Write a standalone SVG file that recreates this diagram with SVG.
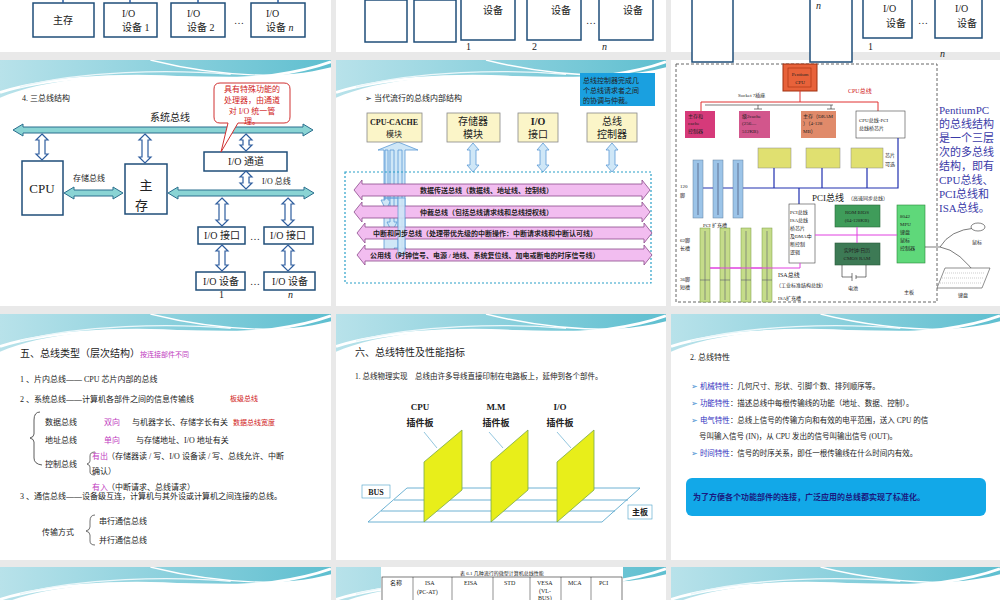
<svg xmlns="http://www.w3.org/2000/svg" width="1000" height="600" viewBox="0 0 1000 600">
<style>
text{font-family:"Liberation Serif","Noto Sans CJK SC",serif;fill:#222}
.s{font-size:10px}.xs{font-size:8px}.t{font-size:11px}
.box{fill:#fff;stroke:#1f4e79;stroke-width:1.5}
.bus{fill:#8ad4d4;stroke:#2b6e8e;stroke-width:1}
.va{fill:#fff;stroke:#2e5d9e;stroke-width:1.2}
.pk{fill:#f2bdf0;stroke:#8a4a8a;stroke-width:0.8}
.lb{fill:#cfe7f7;stroke:#5b9bd5;stroke-width:0.8}
.yb{fill:#fbf5c8;stroke:#888;stroke-width:0.8}
.pink{fill:#c03cc0}.red{fill:#d02020}.blue{fill:#3030c0}
.board{fill:#e8ee1a;stroke:#7aa84a;stroke-width:0.8}
.grid{fill:none;stroke:#4aa0c8;stroke-width:0.8}
</style>
<defs>
<linearGradient id="wg" x1="0" y1="0" x2="1" y2="0"><stop offset="0" stop-color="#b8e2ea"/><stop offset="1" stop-color="#5fbfd0"/></linearGradient>
<symbol id="wave" viewBox="0 0 330 50" preserveAspectRatio="none">
<path d="M0,0 H330 V8 C260,28 170,12 90,20 C50,24 20,32 0,42 Z" fill="url(#wg)"/>
<path d="M0,36 C40,22 110,14 190,20 C250,24 300,14 330,2" fill="none" stroke="#fff" stroke-width="3"/>
<path d="M20,30 C80,12 170,10 230,16" fill="none" stroke="#eaf7fa" stroke-width="1.5"/>
<path d="M150,0 C200,14 260,22 330,14" fill="none" stroke="#fff" stroke-width="1.5"/>
</symbol>
</defs>
<rect width="1000" height="600" fill="#e9e9e9"/>
<rect x="0" y="0" width="331" height="52" fill="#fff"/>
<rect x="336" y="0" width="330" height="52" fill="#fff"/>
<rect x="671" y="0" width="329" height="52" fill="#fff"/>
<rect x="0" y="60" width="331" height="246" fill="#fff"/>
<rect x="336" y="60" width="330" height="246" fill="#fff"/>
<rect x="671" y="60" width="329" height="246" fill="#fff"/>
<rect x="0" y="314" width="331" height="246" fill="#fff"/>
<rect x="336" y="314" width="330" height="246" fill="#fff"/>
<rect x="671" y="314" width="329" height="246" fill="#fff"/>
<rect x="0" y="567" width="331" height="33" fill="#fff"/>
<rect x="336" y="567" width="330" height="33" fill="#fff"/>
<rect x="671" y="567" width="329" height="33" fill="#fff"/>
<use href="#wave" x="0" y="60" width="331" height="45"/>
<use href="#wave" x="336" y="60" width="330" height="45"/>
<use href="#wave" x="0" y="314" width="331" height="45"/>
<use href="#wave" x="336" y="314" width="330" height="45"/>
<use href="#wave" x="671" y="314" width="329" height="45"/>
<use href="#wave" x="0" y="567" width="331" height="45"/>
<use href="#wave" x="336" y="567" width="330" height="45"/>
<use href="#wave" x="671" y="567" width="329" height="45"/>

<g id="top1">
<rect class="box" x="33" y="3" width="61" height="34"/><text class="s" x="63" y="24" text-anchor="middle">主存</text>
<rect class="box" x="104" y="3" width="53" height="34"/><text class="s" x="122" y="17">I/O</text><text class="s" x="122" y="31">设备 1</text>
<rect class="box" x="171" y="3" width="54" height="34"/><text class="s" x="187" y="17">I/O</text><text class="s" x="187" y="31">设备 2</text>
<text class="s" x="234" y="24">…</text>
<rect class="box" x="251" y="3" width="54" height="34"/><text class="s" x="266" y="17">I/O</text><text class="s" x="266" y="31">设备 <tspan font-style="italic">n</tspan></text>
<path d="M63,0 v3 M130,0 v3 M198,0 v3 M278,0 v3" stroke="#2e5d9e" stroke-width="1.5"/>
</g>
<g id="top2">
<rect class="box" x="365" y="0" width="42" height="42"/>
<rect class="box" x="414" y="0" width="42" height="42"/>
<rect class="box" x="461" y="-2" width="54" height="42"/><text class="s" x="483" y="14">设备</text><text class="s" x="466" y="50">1</text>
<rect class="box" x="527" y="-2" width="54" height="42"/><text class="s" x="551" y="14">设备</text><text class="s" x="532" y="50">2</text>
<text class="s" x="586" y="24">…</text>
<rect class="box" x="599" y="-2" width="54" height="42"/><text class="s" x="623" y="14">设备</text><text class="s" x="602" y="50" font-style="italic">n</text>
</g>
<g id="top3">
<rect class="box" x="692" y="-2" width="41" height="64"/>
<rect class="box" x="810" y="-2" width="42" height="64"/><text class="s" x="816" y="9" font-style="italic">n</text>
<rect class="box" x="863" y="-2" width="49" height="40"/><text class="s" x="883" y="12">I/O</text><text class="s" x="886" y="27">设备</text><text class="s" x="868" y="50">1</text>
<text class="s" x="918" y="24">…</text>
<rect class="box" x="935" y="-2" width="47" height="40"/><text class="s" x="955" y="12">I/O</text><text class="s" x="957" y="27">设备</text><text class="s" x="940" y="57" font-style="italic">n</text>
</g>

<text class="xs" x="22" y="101">4. 三总线结构</text>
<text class="s" x="150" y="121">系统总线</text>
<g id="sysbus-node">
<rect class="box" x="22" y="161" width="41" height="54"/><text x="42" y="193" font-size="13" text-anchor="middle" font-family="Liberation Sans,sans-serif">CPU</text>
<rect class="box" x="125" y="164" width="42" height="50"/><text x="146" y="190" font-size="13" text-anchor="middle">主</text><text x="135" y="210" font-size="13">存</text>
<rect class="box" x="204" y="152" width="83" height="19"/><text class="s" x="246" y="165" text-anchor="middle">I/O 通道</text>
<rect class="box" x="198" y="227" width="47" height="17"/><text class="s" x="222" y="239" text-anchor="middle">I/O 接口</text>
<rect class="box" x="264" y="227" width="49" height="17"/><text class="s" x="288" y="239" text-anchor="middle">I/O 接口</text>
<rect class="box" x="196" y="272" width="49" height="18"/><text class="s" x="221" y="285" text-anchor="middle">I/O 设备</text>
<rect class="box" x="264" y="272" width="51" height="18"/><text class="s" x="290" y="285" text-anchor="middle">I/O 设备</text>
<text class="s" x="250" y="240">…</text><text class="s" x="250" y="285">…</text>
<text class="s" x="219" y="298">1</text><text class="s" x="288" y="298" font-style="italic">n</text>
<text class="xs" x="73" y="181">存储总线</text>
<text class="xs" x="262" y="184">I/O 总线</text>
</g>
<g id="connectors">
<polygon class="bus" points="13,130 23,124 23,127 303,127 303,124 313,130 303,136 303,133 23,133 23,136"/>
<polygon class="bus" points="64,193 74,187 74,190 113,190 113,187 123,193 113,199 113,196 74,196 74,199"/>
<polygon class="bus" points="168,193 178,187 178,190 304,190 304,187 314,193 304,199 304,196 178,196 178,199"/>
<polygon class="va" points="42,134 48,140 45,140 45,154 48,154 42,160 36,154 39,154 39,140 36,140"/>
<polygon class="va" points="145,134 151,140 148,140 148,157 151,157 145,163 139,157 142,157 142,140 139,140"/>
<polygon class="va" points="246,134 252,140 249,140 249,145 252,145 246,151 240,145 243,145 243,140 240,140"/>
<polygon class="va" points="246,171 252,177 249,177 249,183 252,183 246,189 240,183 243,183 243,177 240,177"/>
<polygon class="va" points="222,198 228,204 225,204 225,220 228,220 222,226 216,220 219,220 219,204 216,204"/>
<polygon class="va" points="288,198 294,204 291,204 291,220 294,220 288,226 282,220 285,220 285,204 282,204"/>
<polygon class="va" points="222,245 228,251 225,251 225,265 228,265 222,271 216,265 219,265 219,251 216,251"/>
<polygon class="va" points="288,245 294,251 291,251 291,265 294,265 288,271 282,265 285,265 285,251 282,251"/>
<polygon class="lb" points="384,255 384,150 378,150 398,142 418,150 405,150 405,255"/>
<polygon class="lb" points="385,150 388,150 388,200 391,200 386,210 381,200 385,200"/>
<polygon class="lb" points="390,150 394,150 394,222 397,222 392,232 387,222 390,222"/>
<polygon class="lb" points="398,150 402,150 402,248 406,248 400,258 394,248 398,248"/>
<polygon class="lb" points="473,143 479,150 476,150 476,165 479,165 473,172 467,165 470,165 470,150 467,150"/>
<polygon class="lb" points="543,143 549,150 546,150 546,165 549,165 543,172 537,165 540,165 540,150 537,150"/>
<polygon class="lb" points="612,143 618,150 615,150 615,165 618,165 612,172 606,165 609,165 609,150 606,150"/>
</g>
<g id="callout">
<path d="M222,83 H284 Q290,83 290,89 V117 Q290,123 284,123 H238 L221,152 L228,123 H220 Q214,123 214,117 V89 Q214,83 220,83 Z" fill="#fff" stroke="#d03030" stroke-width="1"/>
<text class="xs red" x="252" y="92" text-anchor="middle">具有特殊功能的</text>
<text class="xs red" x="252" y="103" text-anchor="middle">处理器，由通道</text>
<text class="xs red" x="252" y="114" text-anchor="middle">对 I/O 统一管</text>
<text class="xs red" x="252" y="124" text-anchor="middle">理。</text>
</g>

<text class="xs" x="365" y="101">➢  当代流行的总线内部结构</text>
<g id="note"><rect x="580" y="73" width="75" height="33" fill="#1aa0e0"/>
<text x="583" y="83" font-size="7" fill="#c03cc0">总线控制器完成几</text><text x="583" y="93" font-size="7" fill="#c03cc0">个总线请求者之间</text><text x="583" y="103" font-size="7" fill="#c03cc0">的协调与仲裁。</text></g>
<g id="cpucache"><rect class="yb" x="367" y="113" width="55" height="29"/><text x="394" y="125" font-size="8" font-weight="bold" text-anchor="middle">CPU-CACHE</text><text x="394" y="137" font-size="8" text-anchor="middle">模块</text></g>
<g id="mem"><rect class="yb" x="447" y="113" width="53" height="29"/><text class="s" x="473" y="125" text-anchor="middle">存储器</text><text class="s" x="473" y="138" text-anchor="middle">模块</text></g>
<g id="io"><rect class="yb" x="518" y="113" width="40" height="29"/><text class="s" x="538" y="125" text-anchor="middle" font-weight="bold">I/O</text><text class="s" x="538" y="138" text-anchor="middle">接口</text></g>
<g id="busctl"><rect class="yb" x="587" y="113" width="50" height="29"/><text class="s" x="612" y="125" text-anchor="middle">总线</text><text class="s" x="612" y="138" text-anchor="middle">控制器</text></g>
<rect x="345" y="172" width="306" height="111" fill="none" stroke="#2aa0c8" stroke-width="1.2" stroke-dasharray="2,2"/>
<g id="pinkbuses">
<polygon class="pk" points="354,190 362,180 362,184 642,184 642,180 650,190 642,200 642,196 362,196 362,200"/>
<polygon class="pk" points="354,212 362,202 362,206 642,206 642,202 650,212 642,222 642,218 362,218 362,222"/>
<polygon class="pk" points="357,233 365,223 365,227 644,227 644,223 652,233 644,243 644,239 365,239 365,243"/>
<polygon class="pk" points="357,255 365,245 365,249 644,249 644,245 652,255 644,265 644,261 365,261 365,265"/>
<polygon class="lb" points="384,198 405,198 405,255 398,255 398,198" opacity="0.9"/>
<text x="420" y="193" font-size="7" font-weight="bold">数据传送总线（数据线、地址线、控制线）</text>
<text x="420" y="215" font-size="7" font-weight="bold">仲裁总线（包括总线请求线和总线授权线）</text>
<text x="373" y="236" font-size="7" font-weight="bold">中断和同步总线（处理带优先级的中断操作：中断请求线和中断认可线）</text>
<text x="370" y="258" font-size="7" font-weight="bold">公用线（时钟信号、电源 / 地线、系统复位线、加电或断电的时序信号线）</text>
</g>

<rect x="676" y="64" width="261" height="238" fill="none" stroke="#666" stroke-dasharray="3,2"/>
<g id="pcpu"><rect x="783" y="64" width="34" height="27" fill="#e8623a" stroke="#a03010"/><rect x="788" y="68" width="23" height="19" fill="none" stroke="#a03010" stroke-width="0.6"/><text x="800" y="76" font-size="5" text-anchor="middle" font-family="DejaVu Sans Mono,monospace">Pentium</text><text x="800" y="84" font-size="5" text-anchor="middle">CPU</text></g>
<path d="M800,91 V102 M701,102 H878 M701,102 V111 M878,102 V111" stroke="#e03030" fill="none"/>
<path d="M705,105 H833 M758,105 V109 M831,105 V109 M754,109 H762 M827,109 H835" stroke="#222" stroke-width="0.6" fill="none"/>
<text x="738" y="97" font-size="5" font-family="DejaVu Sans Mono,monospace">Socket 7插座</text>
<text x="848" y="93" font-size="6" class="red">CPU总线</text>
<g id="p1"><rect x="685" y="111" width="30" height="27" fill="#d63a7a"/><text x="688" y="118" font-size="5" fill="#fff">主存和</text><text x="688" y="125" font-size="5" fill="#fff">cache</text><text x="688" y="133" font-size="5" fill="#fff">控制器</text></g>
<g id="p2"><rect x="739" y="111" width="31" height="27" fill="#d2568c"/><text x="742" y="118" font-size="5" fill="#fff">级2cache</text><text x="742" y="125" font-size="5" fill="#fff">(256—</text><text x="742" y="133" font-size="5" fill="#fff">512KB)</text></g>
<g id="p3"><rect x="801" y="111" width="35" height="27" fill="#e08a6a"/><text x="803" y="118" font-size="5" fill="#fff">主存（DRAM</text><text x="803" y="125" font-size="5" fill="#fff">）（4-128</text><text x="803" y="133" font-size="5" fill="#fff">MB）</text></g>
<g id="p4"><rect x="856" y="111" width="49" height="27" fill="#fff" stroke="#444" stroke-width="0.6"/><text x="859" y="122" font-size="5">CPU总线-PCI</text><text x="859" y="130" font-size="5">总线桥芯片</text></g>
<rect x="758" y="148" width="33" height="20" fill="#e0e070" stroke="#888" stroke-width="0.5"/>
<rect x="806" y="148" width="34" height="20" fill="#e0e070" stroke="#888" stroke-width="0.5"/>
<rect x="851" y="148" width="32" height="20" fill="#e0e070" stroke="#888" stroke-width="0.5"/>
<text x="885" y="157" font-size="5">芯片</text><text x="885" y="166" font-size="5">可选</text>
<path d="M703,188 H898 V138 M774,168 V188 M822,168 V188 M867,168 V188 M799,188 V204" stroke="#2030b0" stroke-width="1.2" fill="none"/>
<rect x="693" y="160" width="10" height="58" fill="#9cc4e8" stroke="#6080a0" stroke-width="0.5"/>
<rect x="713" y="160" width="10" height="58" fill="#9cc4e8" stroke="#6080a0" stroke-width="0.5"/>
<rect x="733" y="160" width="10" height="58" fill="#9cc4e8" stroke="#6080a0" stroke-width="0.5"/>
<path d="M698,163 V215 M718,163 V215 M738,163 V215" stroke="#224" stroke-width="0.5"/>
<text x="680" y="188" font-size="5">120</text><text x="680" y="197" font-size="5">脚</text>
<text x="703" y="227" font-size="5">PCI 扩充槽</text>
<text x="812" y="201" font-size="9" fill="#3040c0" font-family="DejaVu Sans Mono,monospace">PCI总线</text><text x="848" y="200" font-size="5" fill="#3040c0">（高速同步总线）</text>
<g id="bridge"><rect x="789" y="204" width="26" height="59" fill="#fff" stroke="#444" stroke-width="0.6"/>
<text x="790" y="214" font-size="5">PCI总线</text><text x="790" y="222" font-size="5">ISA总线</text><text x="790" y="230" font-size="5">桥芯片</text><text x="790" y="238" font-size="5">及DMA中</text><text x="790" y="246" font-size="5">断控制</text><text x="790" y="254" font-size="5">逻辑</text></g>
<g id="rom"><rect x="835" y="205" width="45" height="22" fill="#3f9c5a" stroke="#2a6a3a" stroke-width="0.6"/><text x="857" y="214" font-size="5" fill="#fff" text-anchor="middle">ROM BIOS</text><text x="857" y="222" font-size="5" fill="#fff" text-anchor="middle">(64-128KB)</text></g>
<g id="rtc"><rect x="835" y="243" width="45" height="22" fill="#3d7a55" stroke="#2a5a3a" stroke-width="0.6"/><text x="857" y="252" font-size="5" fill="#fff" text-anchor="middle">实时钟/日历</text><text x="857" y="260" font-size="5" fill="#fff" text-anchor="middle">CMOS RAM</text></g>
<g id="kbc"><rect x="897" y="205" width="28" height="58" fill="#5fd87a" stroke="#2a8a3a" stroke-width="0.6"/><text x="900" y="218" font-size="5" fill="#fff">8042</text><text x="900" y="226" font-size="5" fill="#fff">MPU</text><text x="900" y="234" font-size="5" fill="#fff">键盘</text><text x="900" y="242" font-size="5" fill="#fff">鼠标</text><text x="900" y="250" font-size="5" fill="#fff">控制器</text></g>
<path d="M815,235 H897 M857,227 V243 M710,268 H800 V263" stroke="#e040e0" stroke-width="1" fill="none"/>
<path d="M842,265 V277 H852 M856,277 H866 V265 M852,273 V281 M856,275 V279" stroke="#222" stroke-width="0.6" fill="none"/>
<g id="isa">
<rect x="700" y="228" width="10" height="74" fill="#c5dc8a" stroke="#7a9a40" stroke-width="0.5"/>
<rect x="720" y="228" width="10" height="74" fill="#c5dc8a" stroke="#7a9a40" stroke-width="0.5"/>
<rect x="741" y="228" width="10" height="74" fill="#c5dc8a" stroke="#7a9a40" stroke-width="0.5"/>
<rect x="762" y="228" width="10" height="74" fill="#c5dc8a" stroke="#7a9a40" stroke-width="0.5"/>
<path d="M700,280 H710 M720,280 H730 M741,280 H751 M762,280 H772 M705,231 V300 M725,231 V300 M746,231 V300 M767,231 V300" stroke="#446" stroke-width="0.5"/>
<path d="M710,268 H772" stroke="#e040e0" stroke-width="1"/>
</g>
<text x="680" y="242" font-size="5">62脚</text><text x="680" y="250" font-size="5">长槽</text>
<text x="680" y="281" font-size="5">36脚</text><text x="680" y="289" font-size="5">短槽</text>
<text x="778" y="277" font-size="6" fill="#e040e0">ISA总线</text><text x="776" y="287" font-size="5" fill="#e040e0">（工业标准结构总线）</text>
<text x="778" y="300" font-size="5">ISA扩充槽</text><text x="848" y="290" font-size="5">电池</text><text x="904" y="294" font-size="5">主板</text>
<path d="M925,247 H940 Q960,250 980,280 M940,247 Q950,230 975,228" stroke="#222" stroke-width="0.6" fill="none"/>
<ellipse cx="978" cy="227" rx="7" ry="4" fill="#fff" stroke="#333" stroke-width="0.6"/>
<text x="972" y="244" font-size="5">鼠标</text>
<polygon points="945,268 990,268 982,288 937,288" fill="#fff" stroke="#444" stroke-width="0.6"/>
<path d="M945,273 H985 M942,278 H984 M940,283 H982" stroke="#999" stroke-width="0.5" stroke-dasharray="1,1"/>
<text x="958" y="297" font-size="5">键盘</text>
<g font-size="11">
<text x="939" y="114" style="fill:#3a3aa8">PentiumPC</text><text x="939" y="128" style="fill:#3a3aa8">的总线结构</text><text x="939" y="142" style="fill:#3a3aa8">是一个三层</text><text x="939" y="156" style="fill:#3a3aa8">次的多总线</text><text x="939" y="170" style="fill:#3a3aa8">结构，即有</text><text x="939" y="184" style="fill:#3a3aa8">CPU总线、</text><text x="939" y="198" style="fill:#3a3aa8">PCI总线和</text><text x="939" y="212" style="fill:#3a3aa8">ISA总线。</text>
</g>

<g id="bustypes">
<text class="s" x="20" y="357">五、总线类型（层次结构）<tspan class="pink" font-size="7">按连接部件不同</tspan></text>
<text class="xs" x="20" y="382">1 、片内总线—— CPU 芯片内部的总线</text>
<text class="xs" x="20" y="402">2 、系统总线——计算机各部件之间的信息传输线</text><text x="230" y="401" font-size="7" class="red">板级总线</text>
<text class="xs" x="45" y="425">数据总线</text><text class="xs pink" x="104" y="425">双向</text><text class="xs" x="132" y="425">与机器字长、存储字长有关</text><text x="233" y="425" font-size="7" class="red">数据总线宽度</text>
<text class="xs" x="45" y="443">地址总线</text><text class="xs pink" x="104" y="443">单向</text><text class="xs" x="136" y="443">与存储地址、I/O 地址有关</text>
<text class="xs" x="45" y="467">控制总线</text>
<text class="xs pink" x="92" y="459">有出</text><text class="xs" x="107" y="459">（存储器读 / 写、I/O 设备读 / 写、总线允许、中断</text>
<text class="xs" x="92" y="474">确认）</text>
<text class="xs pink" x="92" y="490">有入</text><text class="xs" x="107" y="490">（中断请求、总线请求）</text>
<text class="xs" x="20" y="499">3 、通信总线——设备级互连，计算机与其外设或计算机之间连接的总线。</text>
<text class="xs" x="42" y="535">传输方式</text>
<text class="xs" x="99" y="524">串行通信总线</text><text class="xs" x="99" y="543">并行通信总线</text>
<path d="M40,412 Q34,412 34,420 V434 Q34,437 30,438 Q34,439 34,442 V458 Q34,464 42,465" fill="none" stroke="#333" stroke-width="0.8"/>
<path d="M95,452 Q90,452 90,456 V461 Q90,463 87,464 Q90,465 90,467 V472 Q90,475 95,475" fill="none" stroke="#333" stroke-width="0.7"/>
<path d="M95,515 Q90,515 90,521 V527 Q90,530 86,531 Q90,532 90,535 V541 Q90,545 95,545" fill="none" stroke="#333" stroke-width="0.7"/>
</g>

<g id="physbus">
<text class="s" x="355" y="356">六、总线特性及性能指标</text>
<text x="355" y="379" font-size="7.5">1. 总线物理实现　总线由许多导线直接印制在电路板上，延伸到各个部件。</text>
<polygon class="grid" points="368,522 602,522 640,488 407,488"/>
<path class="grid" d="M394,500 H628 M381,511 H615"/>
<polygon class="board" points="424,462 462,430 462,490 424,522"/>
<polygon class="board" points="491,462 528,430 528,490 491,522"/>
<polygon class="board" points="557,462 594,430 594,490 557,522"/>
<path d="M424,432 L437,448 M489,432 L503,448 M557,432 L571,448" stroke="#4aa0c8" stroke-width="0.6"/>
<text x="420" y="410" font-size="9" font-weight="bold" text-anchor="middle">CPU</text><text x="420" y="426" font-size="9" font-weight="bold" text-anchor="middle">插件板</text>
<text x="496" y="410" font-size="9" font-weight="bold" text-anchor="middle">M.M</text><text x="496" y="426" font-size="9" font-weight="bold" text-anchor="middle">插件板</text>
<text x="560" y="410" font-size="9" font-weight="bold" text-anchor="middle">I/O</text><text x="560" y="426" font-size="9" font-weight="bold" text-anchor="middle">插件板</text>
<rect x="362" y="485" width="28" height="13" fill="#fff" stroke="#4aa0c8" stroke-width="0.6"/><text x="376" y="495" font-size="8" font-weight="bold" text-anchor="middle">BUS</text>
<rect x="628" y="505" width="24" height="14" fill="#fff" stroke="#4aa0c8" stroke-width="0.6"/><text x="640" y="515" font-size="8" font-weight="bold" text-anchor="middle">主板</text>
</g>

<g id="buschar">
<text class="xs" x="690" y="360">2. 总线特性</text>
<g font-size="7.5">
<text x="691" y="389"><tspan fill="#3a8ad0">➢ </tspan><tspan fill="#3030c0">机械特性</tspan>：几何尺寸、形状、引脚个数、排列顺序等。</text>
<text x="691" y="406"><tspan fill="#3a8ad0">➢ </tspan><tspan fill="#3030c0">功能特性</tspan>：描述总线中每根传输线的功能（地址、数据、控制）。</text>
<text x="691" y="423"><tspan fill="#3a8ad0">➢ </tspan><tspan fill="#3030c0">电气特性</tspan>：总线上信号的传输方向和有效的电平范围，送入 CPU 的信</text>
<text x="699" y="439">号叫输入信号 (IN)，从 CPU 发出的信号叫输出信号 (OUT)。</text>
<text x="691" y="456"><tspan fill="#3a8ad0">➢ </tspan><tspan fill="#3030c0">时间特性</tspan>：信号的时序关系，即任一根传输线在什么时间内有效。</text>
</g>
<rect x="686" y="478" width="300" height="38" rx="6" fill="#12a8e8"/>
<text x="693" y="500" font-size="8" font-weight="bold" style="fill:#1a1a80">为了方便各个功能部件的连接，广泛应用的总线都实现了标准化。</text>
</g>

<g id="table">
<rect x="381" y="567" width="242" height="33" fill="#fff"/>
<text x="502" y="575" font-size="5" text-anchor="middle">表 6.1 几种流行的微型计算机总线性能</text>
<rect x="382" y="577" width="240" height="30" fill="none" stroke="#222" stroke-width="0.6"/>
<path d="M413,577 V600 M452,577 V600 M493,577 V600 M530,577 V600 M561,577 V600 M591,577 V600" stroke="#222" stroke-width="0.5"/>
<text x="390" y="585" font-size="6">名称</text>
<text x="425" y="585" font-size="6">ISA</text><text x="417" y="594" font-size="6">(PC-AT)</text>
<text x="464" y="585" font-size="6">EISA</text><text x="504" y="585" font-size="6">STD</text>
<text x="537" y="585" font-size="6">VESA</text><text x="539" y="593" font-size="6">(VL-</text><text x="538" y="600" font-size="6">BUS)</text>
<text x="568" y="585" font-size="6">MCA</text><text x="599" y="585" font-size="6">PCI</text>
</g>
</svg>
